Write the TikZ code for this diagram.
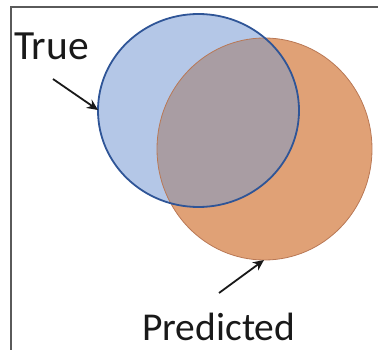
\documentclass[tikz,border=0pt]{standalone}
\usepackage{fontspec}
\setmainfont{Carlito}
\usetikzlibrary{arrows.meta}
\definecolor{bluefill}{RGB}{180,199,231}
\definecolor{blueline}{RGB}{47,85,151}
\definecolor{orangefill}{RGB}{224,161,118}
\definecolor{orangeline}{RGB}{185,120,85}
\definecolor{overlap}{RGB}{169,157,163}
\definecolor{frame}{RGB}{90,90,90}
\definecolor{ink}{RGB}{25,25,25}
\tikzset{
  lbl/.style={font=\fontsize{39.5}{44}\selectfont, text=ink, inner sep=0pt, anchor=base west},
  pointer/.style={-{Stealth[length=11pt,width=10pt]}, line width=1.8pt, ink},
}
\begin{document}
\begin{tikzpicture}[x=1pt,y=-1pt]
\useasboundingbox (0,0) rectangle (378,350);
% frame
\draw[frame, line width=2pt] (11,350) -- (11,7) -- (378,7);
% circles
\def\orangepath{(264.5,149) ellipse [x radius=107.5, y radius=111]}
\def\bluepath{(198.5,110.5) ellipse [x radius=100.5, y radius=96.5]}
\fill[orangefill] \orangepath;
\fill[bluefill] \bluepath;
\begin{scope}
  \clip \orangepath;
  \fill[overlap] \bluepath;
\end{scope}
\draw[orangeline, line width=0.8pt] \orangepath;
\draw[blueline, line width=1.8pt] \bluepath;
% labels
\node[lbl, font=\fontsize{41.5}{46}\selectfont] (true) at (14,60) {True};
\node[lbl] (pred) at (142,340) {Predicted};
% arrows
\coordinate (ts) at (53,79);
\coordinate (tt) at (98,110);
\coordinate (ps) at (219,293);
\coordinate (pt) at (264,260);
\draw[pointer] (ts) -- (tt);
\draw[pointer] (ps) -- (pt);
\end{tikzpicture}
\end{document}
